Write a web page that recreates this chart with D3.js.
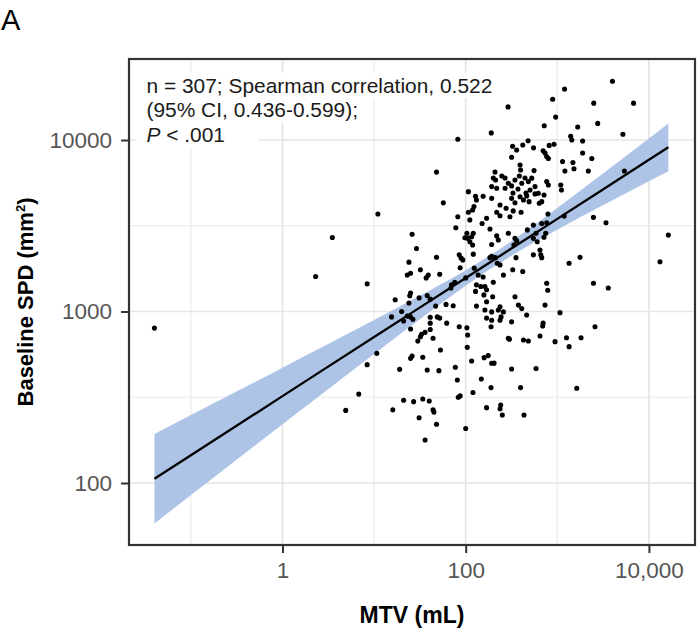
<!DOCTYPE html>
<html><head><meta charset="utf-8">
<script src="https://cdn.jsdelivr.net/npm/d3@7"></script>
<style>
body{margin:0;background:#fff;}
svg{display:block;font-family:"Liberation Sans", Arial, Helvetica, sans-serif;}
</style></head><body>
<svg id="chart" width="700" height="633"></svg>
<script>
// ---- data (MTV in mL, baseline SPD in mm^2) ----
const mtv = [
 0.04,3.5,2.3,8.4,11,17,15.5,10.7,8.4,19,4.9,6.8,16,
 4000,1200,2500,6800,890,290,960,720,1670,2760,5200,82,190,480,420,325,360,550,815,920,
 700,735,765,800,1400,1440,1890,1890,2380,1140,1480,1210,1520,2180,5400,48,57,107,128,131,
 155,192,209,200,212,248,269,192,218,269,292,317,345,385,409,444,483,317,392,397,
 317,345,392,427,463,492,237,123,557,526,571,504,571,620,716,635,676,766,798,1090,
 1110,276,372,328,455,
 82,78,107,119,111,103,105,116,121,98,111,119,169,184,218,237,151,192,218,227,
 304,330,402,292,345,360,336,471,26,29,24,25,23,32,39,37,48,52,85,89,
 93,87,124,137,155,162,169,200,76,70,121,184,192,211,221,237,258,326,419,354,
 25,24.5,31,38,41,24,20,21,23,25,26.5,41,41,47,49,52,61,62,69,73,
 131,169,197,162,192,227,237,243,258,169,192,237,345,376,409,463,317,128,131,146,158,100,
 790,2480,3400,1190,548,676,766,586,548,604,747,716,16300,13200,1345,1770,2480,3600,647,660,
 676,548,766,786,734,1070,647,700,692,944,1260,1345,1815,2580,586,
 25,30,32,33,36,41,44,25,26,34,53,38,51,21,27,34,40,31,44,45,48,36,
 85,103,105,104,116,77,81,83,87,120,100,148,159,176,192,204,189,169,241,237,251,
 189,292,300,317,397,433,427,483,
 1630
];
const spd = [
 800,2700,1600,1450,3700,1170,930,570,490,460,265,330,267,
 22000,19800,16400,16400,17300,15600,13600,12100,11900,12500,10800,10100,11000,9900,9350,9200,8740,9000,9300,9450,
 8660,8400,8000,7800,10500,10000,9870,8400,7800,7500,7400,6600,6800,6600,6600,6500,4300,5000,4700,4470,
 4700,4570,6500,6000,5850,6170,6000,5350,5230,5230,5600,5400,5850,6170,5600,6000,5720,7930,7150,6690,
 4570,4310,4670,4470,4720,4370,4180,4090,6630,5990,5350,5110,4850,4890,4780,4280,4370,5720,5470,5470,
 5110,4000,5180,4910,4910,
 3570,3080,3790,3910,3420,2860,2670,2730,2860,2690,2550,2440,3500,3030,3790,3620,3260,2460,2760,2610,
 3570,3860,3790,2860,2670,2580,2440,2990,2820,2330,1940,1670,1630,1750,1630,1570,2070,1650,2140,2050,
 2000,1800,1790,1630,1590,1400,1340,1480,1480,1430,2160,2060,2100,2060,1910,1870,1630,1750,1710,2060,
 1280,1235,1200,1240,1180,1120,1000,880,940,930,900,925,855,1075,930,915,1100,855,1370,1080,
 1075,1140,1220,1020,995,1020,1065,930,995,915,890,890,1220,1090,1040,955,870,1310,1430,1400,1250,1570,
 3700,3540,3290,3600,3190,3260,3290,2860,2670,2550,2860,2710,2790,1950,1910,2070,1460,1370,2280,2140,
 2060,2140,1460,1330,1090,985,720,855,823,667,703,624,703,815,465,
 790,673,713,736,756,785,698,533,550,541,596,456,452,304,298,309,301,240,267,259,220,178,
 815,804,729,618,514,473,399,316,322,337,208,404,538,553,499,500,360,275,285,271,249,
 815,698,690,462,360,249,682,673,
 357
];
// fitted regression line and its 95% confidence band
const bandMTV  = [0.04, 0.1, 0.3, 1, 3, 10, 30, 100, 200, 500, 1000, 3000, 10000, 16300];
const fitSPD   = [106, 145, 212, 321, 469, 710, 1036, 1569, 1990, 2731, 3467, 5062, 7662, 9066];
const bandLow  = [58, 85, 134, 220, 345, 565, 883, 1414, 1815, 2442, 2999, 4104, 5748, 6584];
const bandHigh = [193, 249, 337, 470, 637, 891, 1217, 1740, 2183, 3055, 4009, 6244, 10216, 12480];
// axes
const xTicks = [1, 100, 10000];
const xTickLabels = ["1", "100", "10,000"];
const xMinor = [0.1, 10, 1000];
const yTicks = [100, 1000, 10000];
const yTickLabels = ["100", "1000", "10000"];
const yMinor = [316.2, 3162];
const annotationLines = ["n = 307; Spearman correlation, 0.522", "(95% CI, 0.436-0.599);", "P < .001"];

// ---- layout ----
const svg = d3.select("#chart");
const P = {left:129, right:695, top:59, bottom:545};
const x = d3.scaleLog().domain([0.0211, 31850]).range([P.left, P.right]);
const y = d3.scaleLog().domain([43.5, 29670]).range([P.bottom, P.top]);

svg.append("rect").attr("x",P.left).attr("y",P.top).attr("width",P.right-P.left).attr("height",P.bottom-P.top).attr("fill","#fff");

// grid
const g = svg.append("g");
g.selectAll(".vmin").data(xMinor).enter().append("line")
  .attr("x1",d=>x(d)).attr("x2",d=>x(d)).attr("y1",P.top).attr("y2",P.bottom)
  .attr("stroke","#ebebeb").attr("stroke-width",1.2);
g.selectAll(".vmaj").data(xTicks).enter().append("line")
  .attr("x1",d=>x(d)).attr("x2",d=>x(d)).attr("y1",P.top).attr("y2",P.bottom)
  .attr("stroke","#e5e5e5").attr("stroke-width",1.7);
g.selectAll(".hmin").data(yMinor).enter().append("line")
  .attr("y1",d=>y(d)).attr("y2",d=>y(d)).attr("x1",P.left).attr("x2",P.right)
  .attr("stroke","#ebebeb").attr("stroke-width",1.2);
g.selectAll(".hmaj").data(yTicks).enter().append("line")
  .attr("y1",d=>y(d)).attr("y2",d=>y(d)).attr("x1",P.left).attr("x2",P.right)
  .attr("stroke","#e5e5e5").attr("stroke-width",1.7);

// annotation layer (white boxes behind each line hide the grid)
const ann = svg.append("g");
const annX = 146.5, annY0 = 92.5, annDy = 24.6, annTargetWidth = 346;

// confidence band and fit
const bandData = bandMTV.map((m,i)=>({m, lo:bandLow[i], hi:bandHigh[i], f:fitSPD[i]}));
svg.append("path").datum(bandData)
  .attr("d", d3.area().x(d=>x(d.m)).y0(d=>y(d.lo)).y1(d=>y(d.hi)).curve(d3.curveMonotoneX))
  .attr("fill","#adc4e7");
svg.append("path").datum(bandData)
  .attr("d", d3.line().x(d=>x(d.m)).y(d=>y(d.f)))
  .attr("fill","none").attr("stroke","#000").attr("stroke-width",2.3);

// points
svg.append("g").selectAll("circle").data(mtv.map((m,i)=>[m,spd[i]])).enter().append("circle")
  .attr("cx",d=>x(d[0])).attr("cy",d=>y(d[1])).attr("r",2.55).attr("fill","#000");

// annotation text, font fitted to the reference width of the first line
const texts = annotationLines.map((t,i)=>{
  const tx = ann.append("text").attr("x",annX).attr("y",annY0+i*annDy)
    .attr("font-size",20).attr("fill","#1a1a1a");
  if (t.startsWith("P ")) {
    tx.append("tspan").attr("font-style","italic").text("P");
    tx.append("tspan").text(t.slice(1));
  } else tx.text(t);
  return tx;
});
const w0 = texts[0].node().getComputedTextLength();
const annFont = 20*annTargetWidth/w0;
texts.forEach(t=>t.attr("font-size",annFont));
const lineRightPad = [6, 6, 34];
texts.forEach((t,i)=>{
  const bb = t.node().getBBox();
  ann.insert("rect",":first-child").attr("x",bb.x-10).attr("y",annY0+i*annDy-annFont*0.95)
    .attr("width",bb.width+10+lineRightPad[i]).attr("height",annDy+1).attr("fill","#fff");
});

// panel border
svg.append("rect").attr("x",P.left).attr("y",P.top).attr("width",P.right-P.left).attr("height",P.bottom-P.top)
  .attr("fill","none").attr("stroke","#333").attr("stroke-width",2.2);

// axes
const xAxis = d3.axisBottom(x).tickValues(xTicks).tickFormat((d,i)=>xTickLabels[i]).tickSize(8).tickPadding(9);
const yAxis = d3.axisLeft(y).tickValues(yTicks).tickFormat((d,i)=>yTickLabels[i]).tickSize(8).tickPadding(9);
const gx = svg.append("g").attr("transform",`translate(0,${P.bottom})`).call(xAxis);
const gy = svg.append("g").attr("transform",`translate(${P.left},0)`).call(yAxis);
[gx,gy].forEach(a=>{
  a.select(".domain").remove();
  a.selectAll(".tick line").attr("stroke","#333").attr("stroke-width",2);
  a.selectAll(".tick text").attr("fill","#555").attr("font-size",22.5).attr("font-family","Liberation Sans, Arial, sans-serif");
});

// axis titles
svg.append("text").attr("x",412).attr("y",623).attr("text-anchor","middle")
  .attr("font-weight","bold").attr("font-size",23).attr("fill","#000").text("MTV (mL)");
const yt = svg.append("text").attr("transform",`translate(33,${(P.top+P.bottom)/2}) rotate(-90)`)
  .attr("text-anchor","middle").attr("font-weight","bold").attr("font-size",22).attr("fill","#000");
yt.append("tspan").text("Baseline SPD (mm");
yt.append("tspan").attr("font-size",13).attr("dy",-8).text("2");
yt.append("tspan").attr("dy",8).text(")");

// panel letter
svg.append("text").attr("x",1).attr("y",30).attr("font-size",29).attr("fill","#000").text("A");
</script>
</body></html>
